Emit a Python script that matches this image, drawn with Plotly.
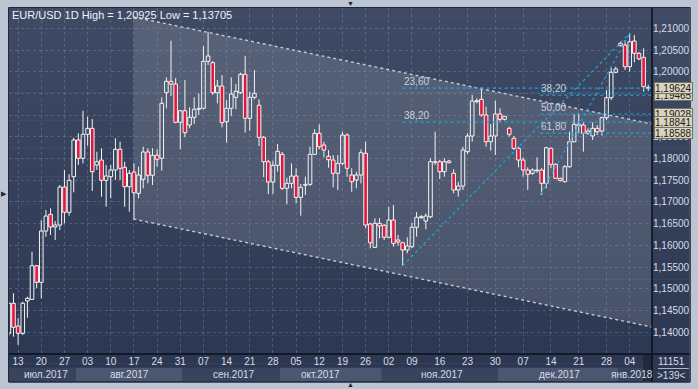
import plotly.graph_objects as go

# ---------------- data ----------------
bar_index = list(range(-1, 138))
opens = [1.13971,1.14663,1.14139,1.13971,1.14716,1.14755,1.15530,1.15147,1.16330,1.16715,
         1.16422,1.16468,1.17345,1.16761,1.17582,1.18429,1.18007,1.18560,1.18698,1.17852,
         1.17967,1.17499,1.17582,1.17737,1.18214,1.17799,1.17352,1.17691,1.17199,1.17522,
         1.18152,1.17615,1.18076,1.18007,1.19519,1.19782,1.19720,1.18837,1.19104,1.18774,
         1.18952,1.19137,1.19160,1.20243,1.20211,1.19519,1.19674,1.18851,1.19160,1.19413,
         1.19519,1.19944,1.18929,1.19413,1.19229,1.18491,1.17928,1.17460,1.17845,1.18099,
         1.17315,1.17430,1.17598,1.17107,1.17384,1.17407,1.18099,1.18583,1.18313,1.18053,
         1.17967,1.17661,1.17891,1.18544,1.17622,1.17506,1.17622,1.18122,1.16492,1.15954,
         1.16508,1.16462,1.16185,1.16584,1.16123,1.16060,1.15892,1.15968,1.16415,1.16637,
         1.16561,1.16660,1.17914,1.17928,1.17698,1.17944,1.17661,1.17276,1.17368,1.18159,
         1.18521,1.19312,1.19367,1.19005,1.18389,1.18521,1.19028,1.18906,1.18698,1.18468,
         1.18237,1.17967,1.17737,1.17661,1.17721,1.17737,1.17430,1.18237,1.17868,1.17545,
         1.17467,1.17813,1.18389,1.18758,1.18774,1.18583,1.18521,1.18698,1.18636,1.18943,
         1.19404,1.19990,1.20659,1.20619,1.20119,1.20712,1.20428,1.20336,1.19640]
highs = [1.14700,1.14894,1.14324,1.14700,1.14815,1.15853,1.15546,1.16577,1.16814,1.16854,
         1.16561,1.17391,1.17737,1.17638,1.18482,1.18583,1.19104,1.18966,1.18913,1.18159,
         1.18237,1.17852,1.17852,1.18468,1.18389,1.17928,1.17737,1.17891,1.17813,1.18274,
         1.18237,1.18237,1.18214,1.19413,1.19874,1.20718,1.19858,1.19120,1.19812,1.19183,
         1.19413,1.19506,1.20596,1.20925,1.20250,1.19812,1.19927,1.19351,1.19874,1.19720,
         1.19981,1.20366,1.19542,1.20043,1.19367,1.18520,1.17967,1.17951,1.18336,1.18152,
         1.17559,1.17891,1.17776,1.17414,1.17582,1.18274,1.18675,1.18791,1.18389,1.18198,
         1.18083,1.18083,1.18620,1.18583,1.17776,1.17698,1.18214,1.18389,1.16520,1.16623,
         1.16623,1.16492,1.16890,1.16930,1.16238,1.16083,1.16185,1.16522,1.16768,1.16699,
         1.16738,1.18007,1.18620,1.17967,1.18007,1.17967,1.17753,1.17467,1.18274,1.18583,
         1.19466,1.19390,1.19644,1.19196,1.18798,1.19335,1.19160,1.18985,1.18735,1.18521,
         1.18274,1.18030,1.17799,1.17776,1.18030,1.17780,1.18274,1.18251,1.17891,1.17559,
         1.17852,1.18620,1.19021,1.19044,1.18851,1.18698,1.18837,1.18774,1.18965,1.19582,
         1.20096,1.20119,1.20695,1.20735,1.20889,1.20850,1.20460,1.20543,1.19700]
lows = [1.13916,1.13893,1.13705,1.13932,1.14331,1.14739,1.15009,1.14778,1.16199,1.16238,
        1.16123,1.16353,1.16508,1.16683,1.17223,1.17852,1.17891,1.18297,1.17253,1.17737,
        1.17121,1.16890,1.17084,1.17506,1.17506,1.16890,1.16775,1.16600,1.17084,1.17315,
        1.17430,1.17391,1.17813,1.17721,1.19160,1.19443,1.18814,1.18214,1.18491,1.18698,
        1.18798,1.19005,1.19137,1.20158,1.19466,1.19275,1.18721,1.18366,1.18982,1.19137,
        1.19489,1.18597,1.18643,1.19367,1.18290,1.17569,1.17183,1.17183,1.17698,1.17276,
        1.16946,1.17315,1.16969,1.16683,1.17160,1.17368,1.18083,1.18214,1.18030,1.17790,
        1.17338,1.17276,1.17852,1.17582,1.17236,1.17315,1.17430,1.16392,1.15931,1.15938,
        1.16162,1.16123,1.16162,1.15968,1.15991,1.15530,1.15816,1.15940,1.16199,1.16614,
        1.16369,1.16623,1.17852,1.17529,1.17582,1.17891,1.17199,1.17121,1.17276,1.18106,
        1.18389,1.19275,1.18966,1.18274,1.18182,1.18083,1.18851,1.18880,1.18505,1.18198,
        1.17799,1.17582,1.17276,1.17622,1.17675,1.17160,1.17315,1.17776,1.17529,1.17467,
        1.17453,1.17790,1.18376,1.18583,1.18159,1.18544,1.18429,1.18544,1.18528,1.18890,
        1.19351,1.19967,1.20589,1.20043,1.20004,1.20220,1.20270,1.19542,1.19560]
closes = [1.14663,1.14109,1.13971,1.14663,1.14778,1.15530,1.15147,1.16330,1.16676,1.16422,
          1.16468,1.17345,1.16761,1.17499,1.18429,1.18007,1.18560,1.18698,1.17698,1.17928,
          1.17499,1.17598,1.17737,1.18214,1.17776,1.17352,1.17661,1.17213,1.17622,1.18152,
          1.17615,1.18076,1.17984,1.19275,1.19782,1.19720,1.18837,1.19104,1.18597,1.18952,
          1.19137,1.19160,1.20243,1.20366,1.19519,1.19674,1.18828,1.19160,1.19489,1.19552,
          1.19944,1.18929,1.19413,1.19506,1.18491,1.17928,1.17460,1.17845,1.18168,1.17315,
          1.17430,1.17598,1.17107,1.17338,1.17407,1.18099,1.18583,1.18274,1.18198,1.17974,
          1.17661,1.17891,1.18544,1.17776,1.17467,1.17622,1.18136,1.16468,1.16060,1.16508,
          1.16445,1.16185,1.16584,1.16046,1.16076,1.15892,1.15984,1.16415,1.16646,1.16660,
          1.16676,1.17928,1.17928,1.17698,1.17928,1.17905,1.17276,1.17368,1.18198,1.18521,
          1.19328,1.19335,1.19005,1.18389,1.18521,1.19028,1.18906,1.18975,1.18560,1.18237,
          1.17967,1.17737,1.17638,1.17737,1.17737,1.17430,1.18251,1.17868,1.17545,1.17499,
          1.17813,1.18389,1.18791,1.18791,1.18583,1.18636,1.18698,1.18620,1.18943,1.19404,
          1.19990,1.20066,1.20603,1.20119,1.20695,1.20428,1.20300,1.19658,1.19624]

# x-axis (bar index) ticks
tick_pos = [1, 6, 11, 16, 21, 26, 31, 36, 41, 46, 51, 56, 61, 66, 71, 76, 81, 86,
            92, 98, 104, 110, 116, 122, 128, 133]
tick_text = ["13", "20", "27", "03", "10", "17", "24", "31", "07", "14", "21", "28",
             "05", "12", "19", "26", "02", "09", "16", "23", "30", "07", "14", "21", "28", "04"]
month_names = ["июл.2017", "авг.2017", "сен.2017", "окт.2017", "ноя.2017", "дек.2017", "янв.2018"]
month_start = [-1.5, 13.5, 36.5, 57.5, 79.5, 104.5, 130.5]
month_end = [13.5, 36.5, 57.5, 79.5, 104.5, 130.5, 139.0]
month_label_pos = [7.0, 25.0, 47.6, 66.3, 92.5, 117.8, 133.6]

price_ticks = [1.140, 1.145, 1.150, 1.155, 1.160, 1.165, 1.170, 1.175, 1.180,
               1.185, 1.190, 1.195, 1.200, 1.205, 1.210]

# trend channel
chan_x = [25.9, 137.81]
chan_top = [1.21265, 1.18798]
chan_bot = [1.16607, 1.14116]

# fibonacci (low point -> high point)
fib1_x = [84.0, 133.0]
fib1_y = [1.15530, 1.20889]
fib1_levels = ["23,60", "38,20"]
fib1_values = [1.19624, 1.18841]
fib2_x = [113.7, 133.0]
fib2_y = [1.17166, 1.20889]
fib2_levels = ["38,20", "50,00", "61,80"]
fib2_values = [1.19465, 1.19028, 1.18588]

# price markers on right scale
marker_values = [1.19465, 1.19624, 1.19028, 1.18841, 1.18588]

title_text = "EUR/USD 1D High = 1,20925 Low = 1,13705"

# ---------------- layout helpers ----------------
W, H = 698, 389
ML, MR, MT, MB = 9, 43, 8, 8
PW, PH = W - ML - MR, H - MT - MB


def px(xp):
    return (xp - ML) / PW


def py(yp):
    return (H - MB - yp) / PH


X_RANGE = [-0.967, 137.81]
Y_RANGE = [1.13494, 1.21473]

TXT = "#d6dce6"
FONT = "Liberation Sans"
CANDLE_LINE = "#f4f4f4"
BEAR = "#e3173d"


def fmt(v):
    return f"{v:.5f}".replace(".", ",")


fig = go.Figure()

# wicks (outside bodies only)
wx, wy = [], []
for i, o, h, l, c in zip(bar_index, opens, highs, lows, closes):
    top, bot = max(o, c), min(o, c)
    wx += [i, i, None, i, i, None]
    wy += [h, top, None, bot, l, None]
fig.add_trace(go.Scatter(x=wx, y=wy, mode="lines", line=dict(color=CANDLE_LINE, width=1),
                         showlegend=False, hoverinfo="skip"))

# bodies
fig.add_trace(go.Bar(
    x=bar_index,
    y=[abs(c - o) for o, c in zip(opens, closes)],
    base=[min(o, c) for o, c in zip(opens, closes)],
    width=0.78,
    marker=dict(color=[BEAR if c < o else "rgba(0,0,0,0)" for o, c in zip(opens, closes)],
                line=dict(color=CANDLE_LINE, width=1)),
    showlegend=False, hoverinfo="skip"))

# channel lines
for ys in (chan_top, chan_bot):
    fig.add_trace(go.Scatter(x=chan_x, y=ys, mode="lines",
                             line=dict(color="#c3cad5", width=1.4, dash="dot"),
                             showlegend=False, hoverinfo="skip"))

# fib diagonals
for fx, fy in ((fib1_x, fib1_y), (fib2_x, fib2_y)):
    fig.add_trace(go.Scatter(x=fx, y=fy, mode="lines",
                             line=dict(color="#1fa3df", width=1.2, dash="dot"),
                             showlegend=False, hoverinfo="skip"))

# fib levels
for fx, vals, labs in ((fib1_x, fib1_values, fib1_levels), (fib2_x, fib2_values, fib2_levels)):
    for v, lab in zip(vals, labs):
        fig.add_trace(go.Scatter(x=[fx[0], X_RANGE[1]], y=[v, v], mode="lines",
                                 line=dict(color="#1fa3df", width=1.2, dash="dot"),
                                 showlegend=False, hoverinfo="skip"))
        fig.add_annotation(x=fx[0], y=v, xref="x", yref="y", text=lab, showarrow=False,
                           xanchor="left", yanchor="bottom", yshift=-1, xshift=-1,
                           font=dict(family=FONT, size=10, color="#c9d1de"))

shapes = []
# background gradient over the dark panel
n = 40
y_top, y_bot = 8, 382
c0 = (63, 75, 101)
c1 = (43, 54, 81)
for k in range(n):
    t = k / (n - 1)
    col = tuple(int(round(c0[j] + (c1[j] - c0[j]) * t)) for j in range(3))
    ya = y_top + (y_bot - y_top) * k / n
    yb = y_top + (y_bot - y_top) * (k + 1) / n
    shapes.append(dict(type="rect", xref="paper", yref="paper", x0=px(9), x1=px(693),
                       y0=py(yb + 0.5), y1=py(ya), layer="below", line=dict(width=0),
                       fillcolor="rgb(%d,%d,%d)" % col))

# channel fill
shapes.append(dict(type="path", xref="x", yref="y", layer="below", line=dict(width=0),
                   fillcolor="rgba(255,255,255,0.13)",
                   path=f"M {chan_x[0]},{chan_top[0]} L {chan_x[1]},{chan_top[1]} "
                        f"L {chan_x[1]},{chan_bot[1]} L {chan_x[0]},{chan_bot[0]} Z"))

# month bands
for k, (s, e) in enumerate(zip(month_start, month_end)):
    shapes.append(dict(type="rect", xref="x2", yref="y2", x0=s, x1=e, y0=0, y1=1,
                       layer="below", line=dict(width=0),
                       fillcolor="#4b5771" if k % 2 == 1 else "#38445e"))
for nm, pos in zip(month_names, month_label_pos):
    fig.add_annotation(x=pos, y=0.5, xref="x2", yref="y2", text=nm, showarrow=False,
                       xanchor="center", yanchor="middle",
                       font=dict(family=FONT, size=10, color=TXT))

# scroll marker
shapes.append(dict(type="rect", xref="paper", yref="paper", x0=px(646), x1=px(655),
                   y0=py(381), y1=py(355), line=dict(width=0),
                   fillcolor="rgba(28,36,54,0.75)", layer="above"))

# separators / frame
shapes.append(dict(type="line", xref="paper", yref="paper", x0=px(9), x1=px(693),
                   y0=py(354), y1=py(354), line=dict(color="#0b0f18", width=1.5)))
shapes.append(dict(type="line", xref="paper", yref="paper", x0=px(655), x1=px(655),
                   y0=py(382), y1=py(8), line=dict(color="#0b0f18", width=1.5)))
shapes.append(dict(type="line", xref="paper", yref="paper", x0=px(661), x1=px(692),
                   y0=py(368.5), y1=py(368.5), line=dict(color="#aab4c4", width=1)))
shapes.append(dict(type="rect", xref="paper", yref="paper", x0=px(8.5), x1=px(693.5),
                   y0=py(382), y1=py(7.5), line=dict(color="#20283a", width=1)))

# price marker boxes
for v in marker_values:
    fig.add_annotation(x=px(657), y=v, xref="paper", yref="y", text=fmt(v),
                       showarrow=False, xanchor="left", yanchor="middle",
                       height=10, valign="middle",
                       bgcolor="#d8d4bf", bordercolor="#77735f", borderwidth=1, borderpad=0,
                       font=dict(family=FONT, size=10, color="#1b1b1b"))

fig.add_annotation(x=px(10), y=py(15), xref="paper", yref="paper", text=title_text,
                   showarrow=False, xanchor="left", yanchor="middle",
                   font=dict(family=FONT, size=11, color="#eef1f6"))
fig.add_annotation(x=px(675), y=py(361.5), xref="paper", yref="paper", text="11151",
                   showarrow=False, xanchor="center", yanchor="middle",
                   font=dict(family=FONT, size=10, color=TXT))
fig.add_annotation(x=px(675), y=py(375), xref="paper", yref="paper", text="&gt;139&lt;",
                   showarrow=False, xanchor="center", yanchor="middle",
                   font=dict(family=FONT, size=10, color=TXT))
for txt, xx, yy in (("▼", 352, 4), ("▲", 352, 384), ("▶", 4, 193)):
    fig.add_annotation(x=px(xx), y=py(yy), xref="paper", yref="paper", text=txt,
                       showarrow=False, xanchor="center", yanchor="middle",
                       font=dict(size=7, color="#1a2232"))

grid = "rgba(140,155,185,0.35)"
fig.update_layout(
    width=W, height=H,
    margin=dict(l=ML, r=MR, t=MT, b=MB),
    paper_bgcolor="#bcc6d3",
    plot_bgcolor="rgba(0,0,0,0)",
    shapes=shapes,
    showlegend=False,
    barmode="overlay",
    xaxis=dict(range=X_RANGE, tickvals=tick_pos, ticktext=tick_text, showgrid=True,
               gridcolor=grid, griddash="3px,3px", gridwidth=1, zeroline=False,
               tickfont=dict(family=FONT, size=10, color=TXT), ticks="",
               anchor="y", domain=[0, 1], showline=False, fixedrange=True),
    yaxis=dict(range=Y_RANGE, domain=[py(354), 1], side="right", tickvals=price_ticks,
               ticktext=[fmt(v) for v in price_ticks], showgrid=True, gridcolor=grid,
               griddash="3px,3px", gridwidth=1, zeroline=False, ticks="",
               tickfont=dict(family=FONT, size=10, color=TXT), anchor="x",
               showline=False, fixedrange=True),
    xaxis2=dict(matches="x", anchor="y2", domain=[0, 1], showticklabels=False,
                showgrid=False, zeroline=False, ticks=""),
    yaxis2=dict(range=[0, 1], domain=[0, py(367.5)], showticklabels=False,
                showgrid=False, zeroline=False, ticks=""),
)

fig.write_html("out.html")
